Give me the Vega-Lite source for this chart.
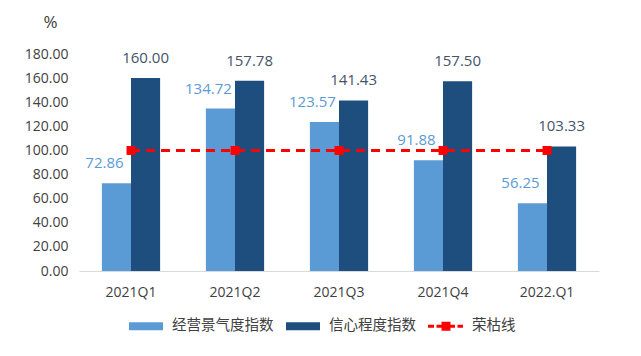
{
  "$schema": "https://vega.github.io/schema/vega-lite/v6.json",
  "width": 520,
  "height": 217,
  "autosize": {"type": "none"},
  "padding": {"left": 79, "top": 54, "right": 42, "bottom": 85},
  "background": "white",
  "config": {"view": {"stroke": null}, "font": "Open Sans"},
  "datasets": {
    "bars": [
      {"period": "2021Q1", "series": "经营景气度指数", "value": 72.86},
      {"period": "2021Q1", "series": "信心程度指数", "value": 160.00},
      {"period": "2021Q2", "series": "经营景气度指数", "value": 134.72},
      {"period": "2021Q2", "series": "信心程度指数", "value": 157.78},
      {"period": "2021Q3", "series": "经营景气度指数", "value": 123.57},
      {"period": "2021Q3", "series": "信心程度指数", "value": 141.43},
      {"period": "2021Q4", "series": "经营景气度指数", "value": 91.88},
      {"period": "2021Q4", "series": "信心程度指数", "value": 157.50},
      {"period": "2022.Q1", "series": "经营景气度指数", "value": 56.25},
      {"period": "2022.Q1", "series": "信心程度指数", "value": 103.33}
    ],
    "line": [
      {"period": "2021Q1", "value": 100},
      {"period": "2021Q2", "value": 100},
      {"period": "2021Q3", "value": 100},
      {"period": "2021Q4", "value": 100},
      {"period": "2022.Q1", "value": 100}
    ]
  },
  "encoding": {
    "x": {
      "field": "period", "type": "nominal", "sort": null,
      "scale": {"paddingInner": 0.44, "paddingOuter": 0.22},
      "axis": {"title": null, "labelAngle": 0, "ticks": false, "labelPadding": 14, "labelFontSize": 14, "labelColor": "#404040", "domainColor": "#D9D9D9", "domainWidth": 1}
    },
    "y": {
      "field": "value", "type": "quantitative",
      "scale": {"domain": [0, 180], "nice": false},
      "axis": {"values": [0, 20, 40, 60, 80, 100, 120, 140, 160, 180], "format": ".2f", "grid": false, "domain": false, "ticks": false, "labelPadding": 11, "labelFontSize": 14, "labelColor": "#404040",
        "title": "%", "titleAngle": 0, "titleAlign": "center", "titleBaseline": "middle", "titleX": -29, "titleY": -32, "titleFontSize": 17, "titleFontWeight": "normal", "titleColor": "#404040"}
    }
  },
  "layer": [
    {
      "data": {"name": "bars"},
      "mark": {"type": "bar"},
      "encoding": {
        "xOffset": {"field": "series", "type": "nominal", "sort": ["经营景气度指数", "信心程度指数"], "scale": {"domain": ["经营景气度指数", "信心程度指数"], "paddingInner": 0, "paddingOuter": 0}},
        "color": {
          "field": "series", "type": "nominal",
          "scale": {"domain": ["经营景气度指数", "信心程度指数", "荣枯线"], "range": ["#5B9BD5", "#1D4E7E", "#FF0000"]},
          "legend": {
            "orient": "none", "legendX": 57, "legendY": 262, "direction": "horizontal",
            "title": null, "symbolSize": 400, "symbolStrokeWidth": 0, "labelOffset": 16, "columnPadding": 12,
            "labelFont": "Noto Sans CJK SC", "labelFontSize": 14.5, "labelColor": "#404040",
            "encode": {"symbols": {"update": {"shape": {"signal": "datum.value === '荣枯线' ? 'M-1.8,-0.15H-1.2V0.15H-1.8Z M-0.95,-0.15H-0.35V0.15H-0.95Z M-0.45,-0.45H0.45V0.45H-0.45Z M0.45,-0.15H0.9V0.15H0.45Z M1.15,-0.15H1.7V0.15H1.15Z' : 'M-1.7,-0.4H1.7V0.4H-1.7Z'"}}}}
          }
        }
      }
    },
    {
      "data": {"name": "bars"},
      "transform": [{"filter": "datum.series === '经营景气度指数'"}],
      "mark": {"type": "text", "dy": -20, "dx": -12, "fontSize": 15, "color": "#5B9BD5"},
      "encoding": {
        "xOffset": {"datum": "经营景气度指数"},
        "text": {"field": "value", "type": "quantitative", "format": ".2f"}
      }
    },
    {
      "data": {"name": "bars"},
      "transform": [{"filter": "datum.series === '信心程度指数'"}],
      "mark": {"type": "text", "dy": -20, "fontSize": 15, "color": "#44546A"},
      "encoding": {
        "xOffset": {"datum": "信心程度指数"},
        "text": {"field": "value", "type": "quantitative", "format": ".2f"}
      }
    },
    {
      "data": {"name": "line"},
      "mark": {"type": "line", "color": "#FF0000", "strokeWidth": 3, "strokeDash": [9, 6]},
      "encoding": {}
    },
    {
      "data": {"name": "line"},
      "mark": {"type": "point", "shape": "square", "filled": true, "color": "#FF0000", "size": 80, "opacity": 1},
      "encoding": {}
    }
  ]
}
